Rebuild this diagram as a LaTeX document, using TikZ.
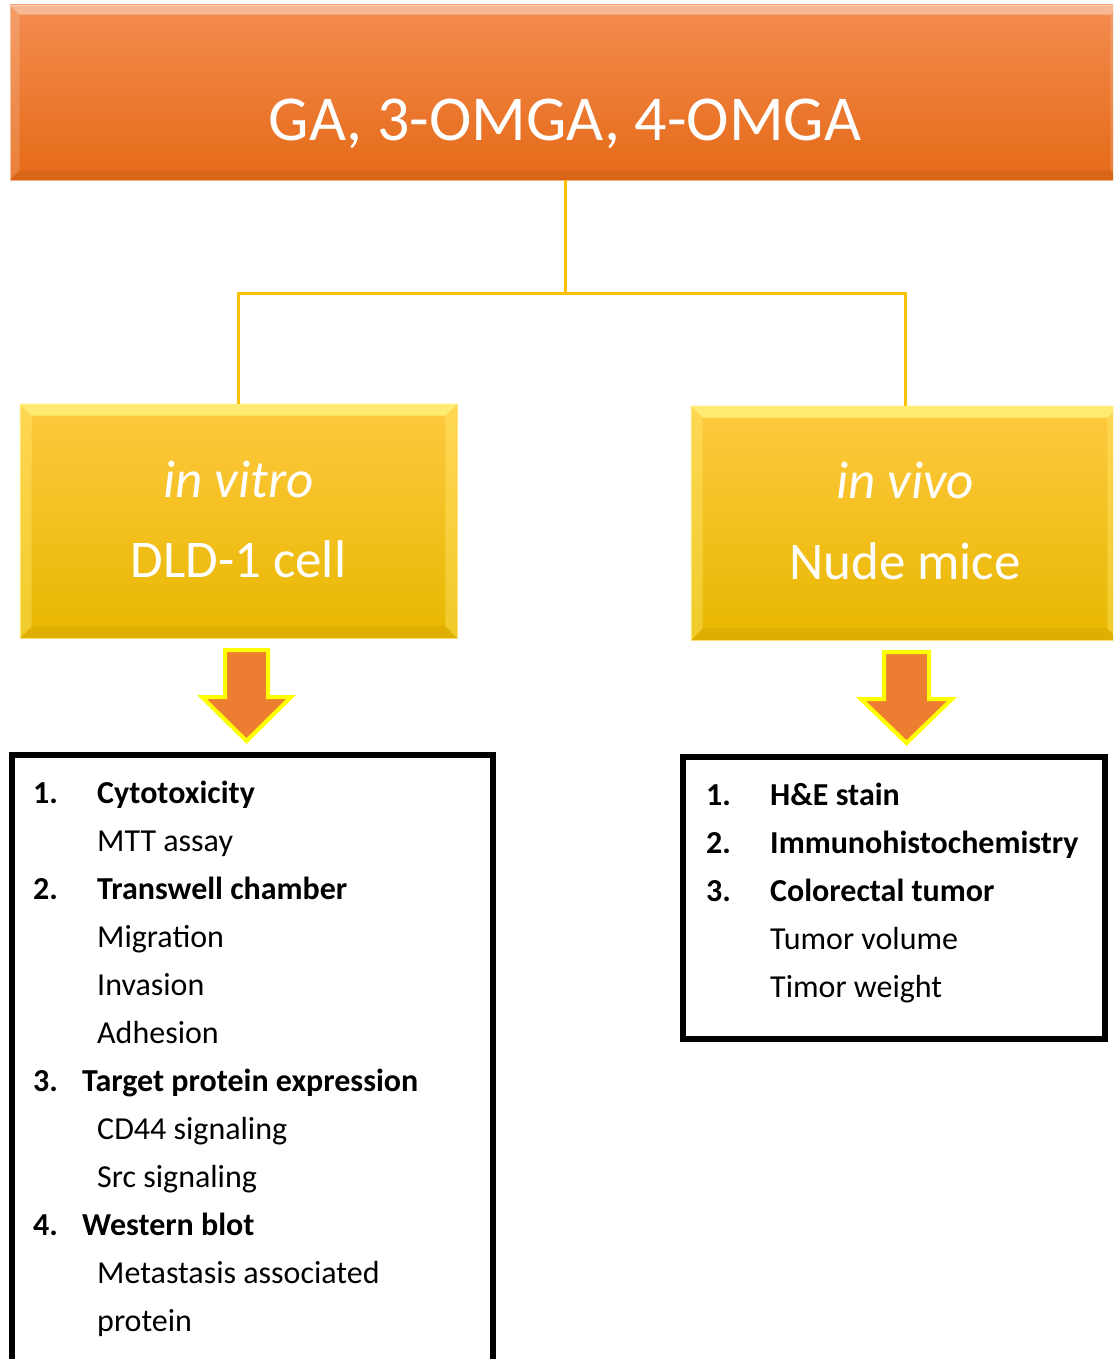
\documentclass[tikz,border=0pt]{standalone}
\usepackage{fontspec}
\setmainfont{Carlito}
\usetikzlibrary{calc}
\definecolor{orgT}{HTML}{F38C50}
\definecolor{orgM}{HTML}{F47C2C}
\definecolor{orgB}{HTML}{E56A17}
\definecolor{orgEdge}{HTML}{F8B58A}
\definecolor{ylwT}{HTML}{FFC940}
\definecolor{ylwM}{HTML}{FFC300}
\definecolor{ylwB}{HTML}{E8B700}
\definecolor{ylwEdge}{HTML}{FFE27A}
\definecolor{ylwHi}{HTML}{FFF27A}
\definecolor{connC}{HTML}{FFC000}
\definecolor{arrowFill}{HTML}{ED7D31}
\definecolor{arrowEdge}{HTML}{FFFF00}
\newcommand\bevelbox[5]{%
  \fill[#3] (#1.north west) -- (#1.north east) -- ($(#1.north east)+(-#2,#2)$) -- ($(#1.north west)+(#2,#2)$) -- cycle;
  \fill[#4] (#1.north west) -- ($(#1.north west)+(#2,#2)$) -- ($(#1.south west)+(#2,-#2)$) -- (#1.south west) -- cycle;
  \fill[#4] (#1.north east) -- ($(#1.north east)+(-#2,#2)$) -- ($(#1.south east)+(-#2,-#2)$) -- (#1.south east) -- cycle;
  \fill[#5] (#1.south west) -- ($(#1.south west)+(#2,-#2)$) -- ($(#1.south east)+(-#2,-#2)$) -- (#1.south east) -- cycle;
}
\begin{document}
\begin{tikzpicture}[x=1pt,y=-1pt,
  obox/.style={rectangle, inner sep=0pt, top color=orgT, middle color=orgM, bottom color=orgB, draw=orgEdge, line width=0.8pt},
  ybox/.style={rectangle, inner sep=0pt, top color=ylwT, middle color=ylwM, bottom color=ylwB, draw=ylwEdge, line width=0.8pt},
  titletext/.style={anchor=base, inner sep=0pt, text=white, font=\fontsize{64}{70}\selectfont},
  boxtext/.style={anchor=base, inner sep=0pt, text=white, font=\fontsize{53}{60}\selectfont},
  connline/.style={draw=connC, line width=3pt},
  blockarrow/.style={fill=arrowFill, draw=arrowEdge, line width=4pt, line join=miter},
  listframe/.style={rectangle, draw=black, line width=5.5pt, inner sep=0pt, fill=none},
  itm/.style={anchor=base west, inner sep=0pt, text=black, font=\fontsize{32}{38}\selectfont},
  itmb/.style={itm, font=\fontsize{32}{38}\selectfont\bfseries}
]
\useasboundingbox (0,0) rectangle (1113,1359);
\fill[white] (0,0) rectangle (1113,1359);
\clip (0,0) rectangle (1113,1359);

% top box
\node[obox, minimum width=1110pt, minimum height=175pt] (top) at (565,92.5) {};
\bevelbox{top}{10}{white,opacity=0.4}{white,opacity=0.15}{black,opacity=0.05}
\node[titletext] (toptext) at (565,141) {GA, 3-OMGA, 4-OMGA};

% second-level boxes
\node[ybox, minimum width=437pt, minimum height=234pt] (vitro) at (238.5,521) {};
\bevelbox{vitro}{12}{ylwHi,opacity=0.85}{ylwHi,opacity=0.35}{black,opacity=0.04}
\node[boxtext, font=\fontsize{53}{60}\selectfont\itshape] (vitroA) at (238.5,497) {in vitro};
\node[boxtext] (vitroB) at (238.5,577) {DLD-1 cell};

\node[ybox, minimum width=428pt, minimum height=234pt] (vivo) at (905,523) {};
\bevelbox{vivo}{12}{ylwHi,opacity=0.85}{ylwHi,opacity=0.35}{black,opacity=0.04}
\node[boxtext, font=\fontsize{53}{60}\selectfont\itshape] (vivoA) at (905,498) {in vivo};
\node[boxtext] (vivoB) at (905,579) {Nude mice};

% connectors
\coordinate (mid) at (565,293);
\draw[connline] (top.south) -- (mid) -| (vitro.north);
\draw[connline] (mid) -| (vivo.north);

% block arrows
\draw[blockarrow] (225,650) -- (268,650) -- (268,697) -- (291,697) -- (246.5,741) -- (202,697) -- (225,697) -- cycle;
\draw[blockarrow] (884,652) -- (929,652) -- (929,699) -- (952,699) -- (906.5,743) -- (861,699) -- (884,699) -- cycle;

% list boxes
\node[listframe, minimum width=481pt, minimum height=625pt] (vitrolist) at (252.5,1067.5) {};
\node[listframe, minimum width=422pt, minimum height=282pt] (vivolist) at (894,898) {};

% left list
\node[itmb] (l1n) at (33,803) {1.};
\node[itmb] (l1) at (97,803) {Cytotoxicity};
\node[itm] (l1a) at (97,851) {MTT assay};
\node[itmb] (l2n) at (33,899) {2.};
\node[itmb] (l2) at (97,899) {Transwell chamber};
\node[itm] (l2a) at (97,947) {Migration};
\node[itm] (l2b) at (97,995) {Invasion};
\node[itm] (l2c) at (97,1043) {Adhesion};
\node[itmb] (l3n) at (33,1091) {3.};
\node[itmb] (l3) at (82,1091) {Target protein expression};
\node[itm] (l3a) at (97,1139) {CD44 signaling};
\node[itm] (l3b) at (97,1187) {Src signaling};
\node[itmb] (l4n) at (33,1235) {4.};
\node[itmb] (l4) at (82,1235) {Western blot};
\node[itm] (l4a) at (97,1283) {Metastasis associated};
\node[itm] (l4b) at (97,1331) {protein};

% right list
\node[itmb] (r1n) at (706,805) {1.};
\node[itmb] (r1) at (770,805) {H\&E stain};
\node[itmb] (r2n) at (706,853) {2.};
\node[itmb] (r2) at (770,853) {Immunohistochemistry};
\node[itmb] (r3n) at (706,901) {3.};
\node[itmb] (r3) at (770,901) {Colorectal tumor};
\node[itm] (r3a) at (770,949) {Tumor volume};
\node[itm] (r3b) at (770,997) {Timor weight};
\end{tikzpicture}
\end{document}
